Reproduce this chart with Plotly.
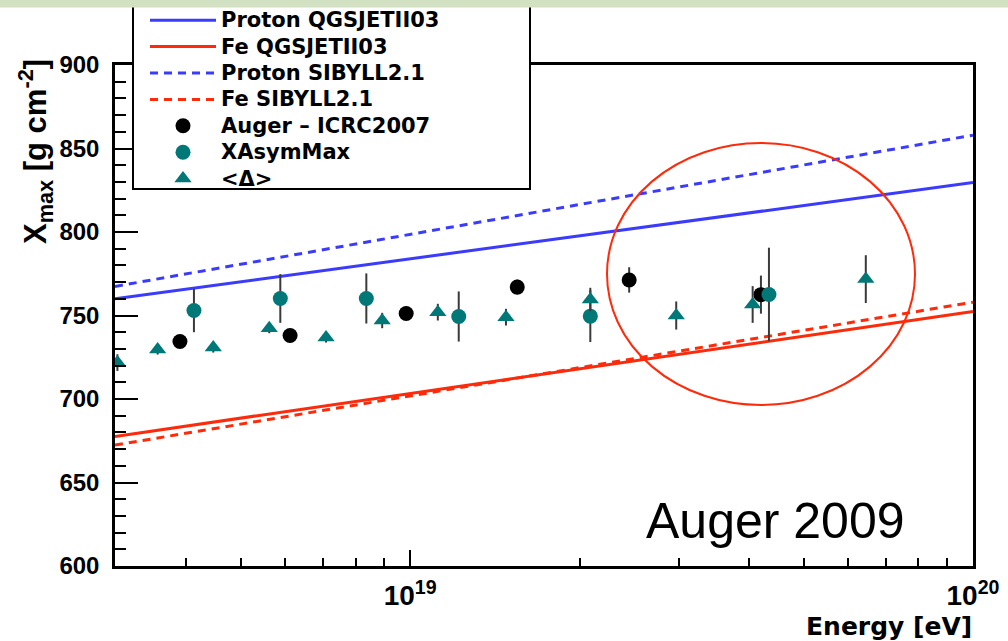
import plotly.graph_objects as go

# ---------------- data ----------------
model_energy = [2.99e18, 1e20]
proton_qgsjet = [760.0, 829.6]
fe_qgsjet = [677.6, 752.4]
proton_sibyll = [767.4, 858.0]
fe_sibyll = [672.4, 758.0]

auger_energy = [3.90e18, 6.12e18, 9.84e18, 1.55e19, 2.45e19, 4.20e19]
auger_xmax = [734.4, 738.0, 751.2, 767.0, 771.3, 762.5]
auger_err = [2.0, 2.0, 2.0, 4.5, 7.6, 11.4]

xasym_energy = [4.13e18, 5.88e18, 8.36e18, 1.22e19, 2.09e19, 4.34e19]
xasym_xmax = [753.0, 760.2, 760.2, 749.4, 749.6, 762.6]
xasym_err = [13.0, 14.6, 15.0, 15.0, 15.5, 28.0]

delta_energy = [3.02e18, 3.56e18, 4.47e18, 5.62e18, 7.09e18, 8.92e18,
                1.12e19, 1.48e19, 2.09e19, 2.97e19, 4.06e19, 6.45e19]
delta_xmax = [721.8, 729.6, 730.8, 742.4, 736.8, 747.0,
              752.0, 749.0, 759.6, 750.0, 756.6, 771.8]
delta_err = [5.0, 3.0, 3.0, 3.0, 3.0, 4.6, 5.0, 5.0, 7.0, 8.4, 11.0, 14.3]

series_names = ["Proton QGSJETII03", "Fe QGSJETII03", "Proton SIBYLL2.1",
                "Fe SIBYLL2.1", "Auger \u2013 ICRC2007", "XAsymMax", "&lt;\u0394&gt;"]

y_ticks = [600, 650, 700, 750, 800, 850, 900]
x_ticks = [1e19, 1e20]
x_ticktext = ["10<sup>19</sup>", "10<sup>20</sup>"]
x_minor = [4e18, 5e18, 6e18, 7e18, 8e18, 9e18,
           2e19, 3e19, 4e19, 5e19, 6e19, 7e19, 8e19, 9e19]

BLUE = "#3b3bff"
RED = "#ff2a0a"
TEAL = "#007878"
ERR = "#3a3a3a"


def lg(name):
    return '<span style="font-size:21px">' + name + "</span>"


fig = go.Figure()

fig.add_trace(go.Scatter(x=model_energy, y=proton_qgsjet, mode="lines",
                         name=lg(series_names[0]), line=dict(color=BLUE, width=3)))
fig.add_trace(go.Scatter(x=model_energy, y=fe_qgsjet, mode="lines",
                         name=lg(series_names[1]), line=dict(color=RED, width=3)))
fig.add_trace(go.Scatter(x=model_energy, y=proton_sibyll, mode="lines",
                         name=lg(series_names[2]),
                         line=dict(color=BLUE, width=3, dash="8px,6px")))
fig.add_trace(go.Scatter(x=model_energy, y=fe_sibyll, mode="lines",
                         name=lg(series_names[3]),
                         line=dict(color=RED, width=3, dash="8px,6px")))

fig.add_trace(go.Scatter(x=auger_energy, y=auger_xmax, mode="markers",
                         name=lg(series_names[4]),
                         marker=dict(symbol="circle", size=15, color="black"),
                         error_y=dict(type="data", array=auger_err, color=ERR,
                                      thickness=2, width=0)))
fig.add_trace(go.Scatter(x=xasym_energy, y=xasym_xmax, mode="markers",
                         name=lg(series_names[5]),
                         marker=dict(symbol="circle", size=15, color=TEAL),
                         error_y=dict(type="data", array=xasym_err, color=ERR,
                                      thickness=2, width=0)))
fig.add_trace(go.Scatter(x=delta_energy, y=delta_xmax, mode="markers",
                         name=lg(series_names[6]),
                         marker=dict(symbol="triangle-up", size=15, color=TEAL),
                         error_y=dict(type="data", array=delta_err, color=ERR,
                                      thickness=2, width=0)))

# plot area in pixels: x 115..973, y 65..566
L, R, T, B = 115, 973, 65, 566
W, H = 1008, 641
pw, ph = R - L, B - T


def px(x):
    return (x - L) / pw


def py(y):
    return (B - y) / ph


fig.update_xaxes(
    type="log",
    range=[18.4757, 20.0],
    showgrid=False, zeroline=False,
    showline=True, linecolor="black", linewidth=2.5, mirror=True,
    ticks="inside", ticklen=16, tickwidth=1.5, tickcolor="black",
    tickmode="array", tickvals=x_ticks, ticktext=x_ticktext,
    tickfont=dict(family="Liberation Sans", size=28, color="black", weight="bold"),
    ticklabelstandoff=3,
    minor=dict(tickmode="array", tickvals=x_minor, ticks="inside",
               ticklen=8, tickwidth=1.5, tickcolor="black", showgrid=False),
)
fig.update_yaxes(
    range=[600, 900],
    showgrid=False, zeroline=False,
    showline=True, linecolor="black", linewidth=2.5, mirror=True,
    ticks="inside", ticklen=23, tickwidth=1.5, tickcolor="black",
    tickmode="array", tickvals=y_ticks,
    tickfont=dict(family="Liberation Sans", size=24, color="black", weight="bold"),
    ticklabelstandoff=8,
    minor=dict(dtick=10, ticks="inside", ticklen=11, tickwidth=1.5,
               tickcolor="black", showgrid=False),
)

shapes = [
    # legend box (white, black frame)
    dict(type="rect", xref="paper", yref="paper",
         x0=px(133), x1=px(530), y0=py(189), y1=py(-20),
         line=dict(color="black", width=2), fillcolor="white", layer="above"),
    # green band at top of slide
    dict(type="rect", xref="paper", yref="paper",
         x0=px(-10), x1=px(W + 10), y0=py(7.5), y1=py(-10),
         line=dict(width=0), fillcolor="#d1e1c2", layer="above"),
    # red ellipse highlighting
    dict(type="circle", xref="paper", yref="paper",
         x0=px(607), x1=px(915), y0=py(405), y1=py(143),
         line=dict(color=RED, width=2), fillcolor="rgba(0,0,0,0)", layer="above"),
]

annotations = [
    dict(text="X<sub>max</sub> [g cm<sup>-2</sup>]", xref="paper", yref="paper",
         x=px(35), y=py(152), xanchor="center", yanchor="middle",
         textangle=-90, showarrow=False,
         font=dict(family="Liberation Sans", size=31, color="black", weight="bold")),
    dict(text="Energy [eV]", xref="paper", yref="paper",
         x=px(974), y=py(626), xanchor="right", yanchor="middle", showarrow=False,
         font=dict(family="DejaVu Sans", size=25, color="black", weight="bold")),
    dict(text="Auger 2009", xref="paper", yref="paper",
         x=px(644), y=py(521), xanchor="left", yanchor="middle", showarrow=False,
         font=dict(family="Liberation Sans", size=50, color="black")),
]

fig.update_layout(
    width=W, height=H, autosize=False,
    margin=dict(l=L, r=W - R, t=T, b=H - B, autoexpand=False),
    plot_bgcolor="white", paper_bgcolor="white",
    shapes=shapes, annotations=annotations,
    showlegend=True,
    legend=dict(x=px(145), y=py(2), xanchor="left", yanchor="top",
                bgcolor="rgba(0,0,0,0)", borderwidth=0,
                itemwidth=66, tracegroupgap=0,
                font=dict(family="DejaVu Sans", size=18, color="black", weight="bold")),
)

fig.write_html("out.html")
